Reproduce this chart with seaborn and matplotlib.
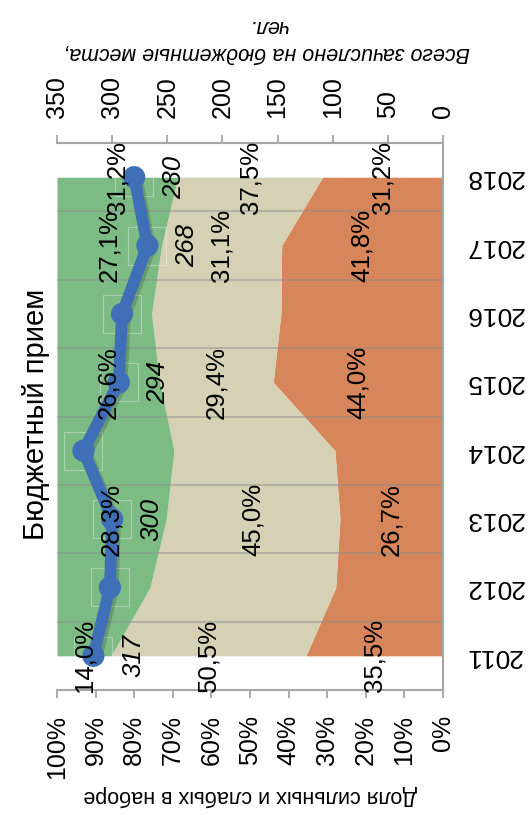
import numpy as np
import pandas as pd
import seaborn as sns
import matplotlib.pyplot as plt
import matplotlib.patheffects as pe

# data
years = ["2011", "2012", "2013", "2014", "2015", "2016", "2017", "2018"]
strong = [14.0, 24.1, 28.3, 30.3, 26.6, 24.5, 27.1, 31.2]   # green, top band
middle = [50.5, 48.1, 45.0, 41.7, 29.4, 33.5, 31.1, 37.5]   # beige band
weak = [35.5, 27.8, 26.7, 28.0, 44.0, 42.0, 41.8, 31.2]     # orange, from 0%
enrolled = [317, 302, 300, 326, 294, 291, 268, 280]
labelled = [True, False, True, False, True, False, True, True]

sns.set_theme(style="white")
plt.rcParams["font.family"] = ["Liberation Sans", "DejaVu Sans"]
plt.rcParams["text.color"] = "black"
plt.rcParams["xtick.color"] = "black"
plt.rcParams["ytick.color"] = "black"

W, H = 530, 815
fig = plt.figure(figsize=(W / 100, H / 100), dpi=100)
ax = fig.add_axes([57 / W, (H - 690) / H, 386 / W, (690 - 143) / H])

df = pd.DataFrame({"year": years, "weak": weak, "middle": middle,
                   "strong": strong, "enrolled": enrolled})
y = np.arange(len(df))
c1 = df["weak"].to_numpy()
c2 = c1 + df["middle"].to_numpy()

green = "#7dbb85"
beige = "#d6d1b5"
orange = "#d6865a"
ax.fill_betweenx(y, 0, c1, color=orange, lw=0, zorder=1)
ax.fill_betweenx(y, c1, c2, color=beige, lw=0, zorder=1)
ax.fill_betweenx(y, c2, 100, color=green, lw=0, zorder=1)

ax.set_xlim(100, 0)
ax.set_ylim(-0.5, len(df) - 0.5)

gcol = "#a6a6a6"
ax.hlines(np.arange(0.5, len(df) - 1), 100, 0, color="#8c8c8c", alpha=0.55,
          lw=1.2, zorder=2)

ax.spines["left"].set_visible(False)
for s in ["bottom", "right", "top"]:
    ax.spines[s].set_color(gcol)
    ax.spines[s].set_linewidth(1.5)

ax.set_xticks(np.arange(0, 101, 10))
ax.set_xticklabels([f"{v}%" for v in range(0, 101, 10)], rotation=90)
ax.tick_params(axis="x", bottom=True, direction="out", length=6, width=1.3,
               color=gcol, labelcolor="black", pad=12, labelsize=18)

ax.yaxis.tick_right()
ax.set_yticks(np.arange(-0.5, len(df)), minor=False)
ax.set_yticklabels([], minor=False)
ax.set_yticks(y, minor=True)
ax.set_yticklabels(years, minor=True, rotation=180)
ax.tick_params(axis="y", which="major", right=True, direction="out",
               length=10, width=1.3, color=gcol)
ax.tick_params(axis="y", which="minor", right=True, length=0, pad=16,
               labelsize=19, labelcolor="black")
for t in ax.get_yticklabels(minor=True):
    t.set_va("center")

# enrolled count on top axis
ax2 = ax.twiny()
ax2.set_xlim(350, 0)
ax2.set_ylim(-0.5, len(df) - 0.5)
sns.lineplot(x=df["enrolled"], y=y, orient="y", ax=ax2, color="#3f6fb6",
             lw=8.5, marker="o", markersize=16, markeredgewidth=0,
             zorder=4)
for ln in ax2.lines:
    ln.set_path_effects([pe.SimpleLineShadow(offset=(2, -2), alpha=0.22,
                                             shadow_color="#222222"),
                         pe.Normal()])
ax2.scatter(df["enrolled"], y, marker="s", s=750, facecolors="none",
            edgecolors="white", linewidths=0.8, alpha=0.35, zorder=3)

# percent labels in the bands (drawn above the line)
def fmt(v):
    return f"{v:.1f}%".replace(".", ",")

for i in range(len(df)):
    if not labelled[i]:
        continue
    for val, lo in [(weak[i], 0), (middle[i], c1[i]), (strong[i], c2[i])]:
        ax2.text(lo + val / 2, i, fmt(val), transform=ax.transData,
                 rotation=90, ha="center", va="center", fontsize=18.5,
                 zorder=6)
    ax2.annotate(str(enrolled[i]), (enrolled[i], i), xytext=(28.5, 0),
                 textcoords="offset points", rotation=90, ha="center",
                 va="center", fontsize=18.5, style="italic", zorder=6)

ax2.set_xticks(np.arange(0, 351, 50))
ax2.set_xticklabels([str(v) for v in range(0, 351, 50)], rotation=90)
ax2.tick_params(axis="x", top=True, direction="out", length=6, width=1.3,
                color=gcol, labelcolor="black", pad=12, labelsize=18)
ax2.set_xlabel("")
ax2.set_ylabel("")
ax2.set_yticks([])
for s in ["left", "right", "bottom"]:
    ax2.spines[s].set_visible(False)
ax2.spines["top"].set_color(gcol)
ax2.spines["top"].set_linewidth(1.5)

fig.text(36 / W, 1 - 414 / H, "Бюджетный прием", rotation=90, ha="center",
         va="center", fontsize=21)
fig.text(250 / W, 1 - 796 / H, "Доля сильных и слабых в наборе",
         rotation=180, ha="center", va="center", fontsize=15.5)
fig.text(267 / W, 1 - 39 / H, "Всего зачислено на бюджетные места,\nчел.",
         rotation=180, ha="center", va="center", fontsize=15.5,
         style="italic", linespacing=1.35)

fig.savefig("out.png", dpi=100)
